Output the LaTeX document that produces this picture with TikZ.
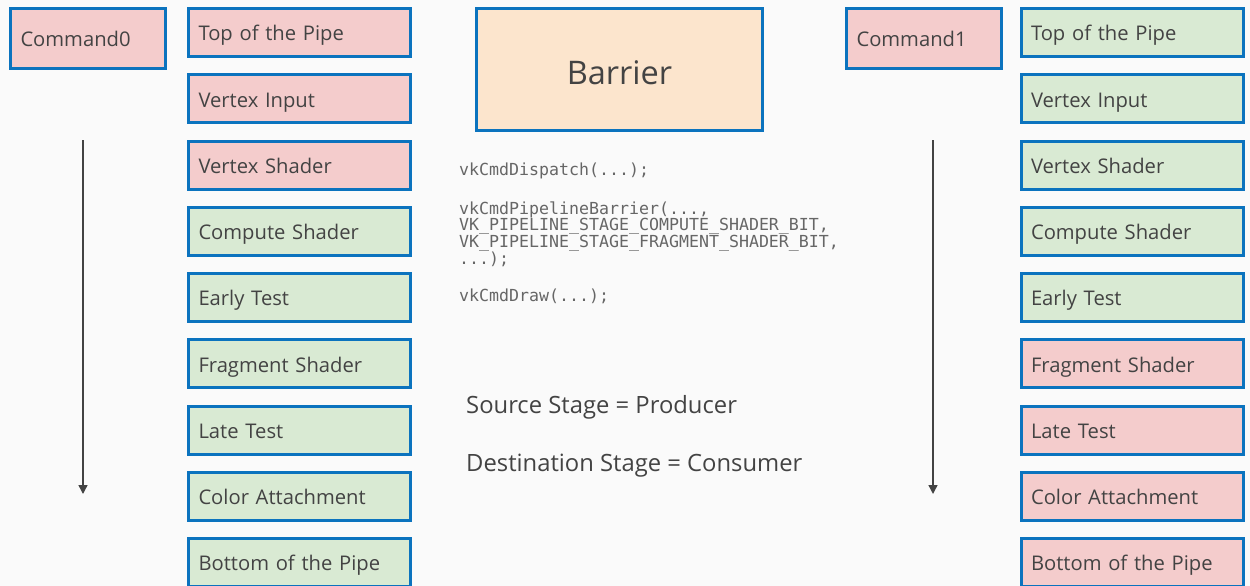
\documentclass[tikz,border=0pt]{standalone}
\usepackage{fontspec}
\setmainfont{Open Sans}
\setmonofont{DejaVu Sans Mono}
\usetikzlibrary{arrows.meta}
\definecolor{bg}{HTML}{FAFAFA}
\definecolor{edge}{HTML}{0B73BE}
\definecolor{pinkfill}{HTML}{F4CCCC}
\definecolor{greenfill}{HTML}{D9EAD3}
\definecolor{orangefill}{HTML}{FCE5CD}
\definecolor{ink}{HTML}{434343}
\definecolor{codeink}{HTML}{666666}
\tikzset{
  stage/.style={draw=edge, line width=3pt, minimum width=222pt, minimum height=48pt,
    text width=202pt, align=left, inner xsep=10pt, text=ink,
    text height=16.6pt, text depth=0pt,
    font=\fontsize{20.2}{24}\selectfont},
  cmdbox/.style={stage, minimum width=155pt, minimum height=60pt, text width=135pt, fill=pinkfill},
  hot/.style={fill=pinkfill},
  cool/.style={fill=greenfill},
  code/.style={anchor=base west, inner sep=0pt, text=codeink,
    font=\ttfamily\fontsize{16.6}{17}\selectfont},
  note/.style={anchor=base west, inner sep=0pt, text=ink, font=\fontsize{23.8}{28}\selectfont},
  flow/.style={draw=ink, line width=1.4pt, -{Triangle[length=9pt,width=9pt]}}
}
\begin{document}
\begin{tikzpicture}[x=1pt,y=-1pt]
\useasboundingbox[fill=bg] (0,0) rectangle (1250,586);

% left command and its pipeline stages
\node[cmdbox] (c0) at (88,38.5) {Command0};
\node[stage,hot]  (l1) at (299.5,32.5)  {Top of the Pipe};
\node[stage,hot]  (l2) at (299.5,98.75) {Vertex Input};
\node[stage,hot]  (l3) at (299.5,165)   {Vertex Shader};
\node[stage,cool] (l4) at (299.5,231.25){Compute Shader};
\node[stage,cool] (l5) at (299.5,297.5) {Early Test};
\node[stage,cool] (l6) at (299.5,363.75){Fragment Shader};
\node[stage,cool] (l7) at (299.5,430)   {Late Test};
\node[stage,cool] (l8) at (299.5,496.25){Color Attachment};
\node[stage,cool] (l9) at (299.5,562.5) {Bottom of the Pipe};

% right command and its pipeline stages
\node[cmdbox] (c1) at (924,38.5) {Command1};
\node[stage,cool] (r1) at (1132,32.5)  {Top of the Pipe};
\node[stage,cool] (r2) at (1132,98.75) {Vertex Input};
\node[stage,cool] (r3) at (1132,165)   {Vertex Shader};
\node[stage,cool] (r4) at (1132,231.25){Compute Shader};
\node[stage,cool] (r5) at (1132,297.5) {Early Test};
\node[stage,hot]  (r6) at (1132,363.75){Fragment Shader};
\node[stage,hot]  (r7) at (1132,430)   {Late Test};
\node[stage,hot]  (r8) at (1132,496.25){Color Attachment};
\node[stage,hot]  (r9) at (1132,562.5) {Bottom of the Pipe};

% barrier box
\node[draw=edge, line width=3pt, fill=orangefill, minimum width=286pt, minimum height=122pt,
  text=ink, text height=29.6pt, text depth=0pt,
  font=\fontsize{32.5}{38}\selectfont] (bar) at (619.5,69.5) {Barrier};

% code listing, one node per line
\node[code] (k1) at (459,175)   {vkCmdDispatch(...);};
\node[code] (k2) at (459,214)   {vkCmdPipelineBarrier(...,};
\node[code] (k3) at (459,230.7) {VK\_PIPELINE\_STAGE\_COMPUTE\_SHADER\_BIT,};
\node[code] (k4) at (459,247.3) {VK\_PIPELINE\_STAGE\_FRAGMENT\_SHADER\_BIT,};
\node[code] (k5) at (459,264)   {...);};
\node[code] (k6) at (459,301.7) {vkCmdDraw(...);};

% explanation
\node[note] (n1) at (466,413.3) {Source Stage = Producer};
\node[note] (n2) at (466,471.7) {Destination Stage = Consumer};

% time arrows
\coordinate (a0s) at (83,140);
\coordinate (a0e) at (83,494);
\coordinate (a1s) at (933,140);
\coordinate (a1e) at (933,494);
\draw[flow] (a0s) -- (a0e);
\draw[flow] (a1s) -- (a1e);
\end{tikzpicture}
\end{document}
